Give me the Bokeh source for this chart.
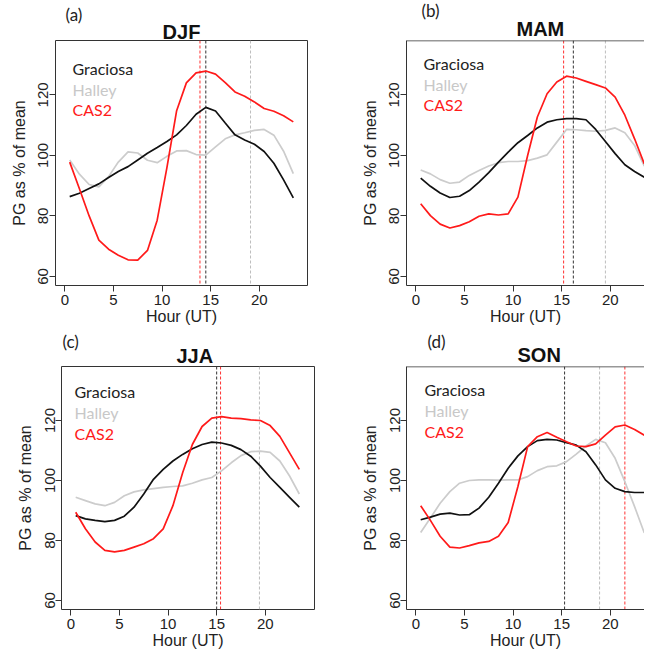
from bokeh.plotting import figure
from bokeh.models import Range1d, FixedTicker, Label, Span, Title
from bokeh.layouts import column, row
from bokeh.embed import file_html
from bokeh.resources import INLINE

# ---------------- data ----------------
hours = [0.5, 1.5, 2.5, 3.5, 4.5, 5.5, 6.5, 7.5, 8.5, 9.5, 10.5, 11.5,
         12.5, 13.5, 14.5, 15.5, 16.5, 17.5, 18.5, 19.5, 20.5, 21.5, 22.5, 23.5]

series_names = ["Graciosa", "Halley", "CAS2"]
seasons = ["DJF", "MAM", "JJA", "SON"]
panel_letters = ["(a)", "(b)", "(c)", "(d)"]

graciosa_djf = [86.4, 87.5, 89.1, 90.6, 92.7, 94.7, 96.3, 98.5, 100.7, 102.6, 104.6, 106.8,
                109.9, 113.6, 115.9, 114.7, 110.7, 106.8, 105.1, 103.7, 101.3, 97.4, 91.9, 86.0]
halley_djf = [98.5, 93.8, 90.4, 89.6, 93.0, 97.8, 101.2, 100.8, 98.4, 97.6, 99.7, 101.5,
              101.6, 100.3, 100.1, 102.8, 105.5, 106.8, 107.5, 108.3, 108.6, 106.7, 101.4, 94.0]
cas2_djf = [97.8, 89.0, 80.0, 72.0, 69.0, 67.0, 65.5, 65.4, 68.6, 78.6, 96.0, 114.8,
            124.0, 127.3, 127.9, 126.9, 124.1, 121.0, 119.6, 117.7, 115.5, 114.6, 113.1, 111.1]

graciosa_mam = [92.5, 89.8, 87.6, 86.1, 86.5, 88.4, 91.2, 94.3, 97.8, 101.1, 104.2, 106.6,
                109.1, 111.0, 111.8, 112.2, 112.2, 111.8, 108.6, 104.6, 100.6, 96.9, 94.7, 92.8]
halley_mam = [95.2, 93.9, 92.0, 90.8, 91.2, 93.4, 95.0, 96.5, 97.6, 98.0, 98.0, 98.3,
              99.1, 100.2, 104.4, 108.6, 108.5, 108.2, 108.0, 108.3, 109.1, 107.5, 103.3, 96.5]
cas2_mam = [84.0, 80.1, 77.3, 76.0, 76.8, 78.1, 79.9, 80.7, 80.3, 80.7, 86.2, 100.0,
            112.7, 120.4, 124.3, 126.2, 125.6, 124.5, 123.4, 122.3, 119.3, 113.3, 105.5, 97.2]

graciosa_jja = [88.3, 87.2, 86.7, 86.3, 86.7, 88.1, 91.1, 95.5, 100.4, 103.7, 106.5, 108.7,
                110.6, 112.0, 112.8, 112.5, 111.7, 110.3, 108.1, 104.8, 101.0, 97.7, 94.4, 91.1]
halley_jja = [94.4, 93.3, 92.2, 91.6, 92.7, 94.9, 96.2, 96.9, 97.3, 97.7, 98.0, 98.2,
              99.1, 100.2, 101.0, 103.2, 105.9, 108.3, 109.6, 109.8, 109.4, 106.5, 101.5, 95.5]
cas2_jja = [89.4, 83.9, 79.5, 76.7, 76.2, 76.7, 77.8, 78.9, 80.6, 83.9, 91.6, 102.6,
            112.0, 118.0, 120.8, 121.3, 120.8, 120.6, 120.2, 120.0, 118.3, 114.7, 109.2, 103.7]

graciosa_son = [86.9, 87.8, 88.8, 89.1, 88.5, 88.6, 90.8, 94.4, 99.1, 104.1, 108.2, 111.3,
                113.3, 113.7, 113.5, 112.6, 111.8, 109.6, 105.2, 100.2, 97.4, 96.3, 96.0, 96.0]
halley_son = [82.7, 87.5, 92.4, 96.3, 99.1, 100.0, 100.2, 100.2, 100.1, 100.2, 100.2, 101.3,
              103.3, 104.6, 104.9, 106.3, 108.8, 111.5, 113.7, 112.6, 107.4, 99.6, 91.3, 82.5]
cas2_son = [91.6, 86.7, 81.4, 77.8, 77.5, 78.3, 79.2, 79.7, 81.4, 86.0, 98.0, 111.3,
            114.6, 116.0, 114.4, 112.9, 111.5, 111.3, 112.2, 115.1, 117.9, 118.5, 117.0, 115.1]

# hour of maximum (dotted vertical lines): Graciosa, Halley, CAS2
peak_djf = [14.5, 19.1, 13.9]
peak_mam = [16.2, 19.5, 15.2]
peak_jja = [15.0, 19.4, 15.4]
peak_son = [15.3, 18.9, 21.5]

x_ticks = [0, 5, 10, 15, 20]
y_ticks = [60, 80, 100, 120]
x_label = "Hour (UT)"
y_label = "PG as % of mean"

# ---------------- styling ----------------
LINE_COLORS = ["#111111", "#cccccc", "#ff1a1a"]
TEXT_COLORS = ["#222222", "#c8c8c8", "#ff1a1a"]
SPAN_COLORS = ["#333333", "#bdbdbd", "#ff3030"]
AX = "#333333"
SANS = "Liberation Sans"
LEG = "Lato"

X_LO, X_HI = -0.96, 24.96
Y_LO, Y_HI = 57.0, 138.0
PX_PER_X = 252 / (X_HI - X_LO)


def make_panel(idx, gra, hal, cas, peaks, fw, fh, borders, open_right, lay):
    mb_left, mb_right, mb_top = borders
    letter_off, letter_so, title_align, title_off, title_so, leg_dx, leg_rows = lay
    x_hi = X_LO + fw / PX_PER_X
    p = figure(frame_width=fw, frame_height=fh,
               min_border_left=mb_left, min_border_right=mb_right,
               min_border_top=mb_top, min_border_bottom=45,
               x_range=Range1d(X_LO, x_hi), y_range=Range1d(Y_LO, Y_HI),
               output_backend="svg", toolbar_location=None,
               background_fill_color="white", border_fill_color="white")
    p.xgrid.visible = False
    p.ygrid.visible = False

    for ax in (p.xaxis[0], p.yaxis[0]):
        ax.minor_tick_line_color = None
        ax.minor_tick_out = 0
        ax.major_tick_in = 0
        ax.major_tick_out = 6
        ax.major_tick_line_color = AX
        ax.major_label_text_font = SANS
        ax.major_label_text_color = "#222222"
        ax.axis_label_text_font = SANS
        ax.axis_label_text_font_style = "normal"
        ax.axis_label_text_color = "#222222"
    p.xaxis.ticker = FixedTicker(ticks=x_ticks)
    p.yaxis.ticker = FixedTicker(ticks=y_ticks)
    p.xaxis.major_label_text_font_size = "15px"
    p.yaxis.major_label_text_font_size = "15px"
    p.xaxis.axis_label_text_font_size = "16px"
    p.yaxis.axis_label_text_font_size = "16px"
    p.xaxis.major_label_standoff = 3
    p.xaxis.axis_label_standoff = 0
    p.yaxis.major_label_standoff = 1
    p.yaxis.axis_label_standoff = 8
    p.yaxis.major_label_orientation = "vertical"
    p.xaxis.axis_label = x_label
    p.yaxis.axis_label = y_label

    if open_right:
        # the box continues past the page edge: left, bottom and top edges only
        p.outline_line_color = None
        p.xaxis[0].axis_line_color = AX
        p.yaxis[0].axis_line_color = AX
        p.add_layout(Span(location=Y_HI, dimension="width", line_color=AX, line_width=1.5))
    else:
        p.outline_line_color = AX
        p.outline_line_width = 1
        p.xaxis[0].axis_line_color = None
        p.yaxis[0].axis_line_color = None

    for k in range(3):
        p.add_layout(Span(location=peaks[k], dimension="height", line_color=SPAN_COLORS[k],
                          line_dash="3 2", line_width=1, level="underlay"))

    p.line(hours, hal, line_color=LINE_COLORS[1], line_width=1.7)
    p.line(hours, gra, line_color=LINE_COLORS[0], line_width=1.7)
    p.line(hours, cas, line_color=LINE_COLORS[2], line_width=1.7)

    # season name sits right above the box, panel letter above-left of it
    p.add_layout(Title(text=seasons[idx], align=title_align, offset=title_off,
                       text_font=SANS, text_font_size="20px", text_font_style="bold",
                       text_color="#111111", standoff=title_so), "above")
    p.add_layout(Title(text=panel_letters[idx], align="left", offset=letter_off,
                       vertical_align="bottom",
                       text_font=LEG, text_font_size="17px", text_font_style="normal",
                       text_color="#222222", standoff=letter_so), "above")

    def dx(px):
        return X_LO + px / PX_PER_X

    def dy(px_below_top):
        return Y_HI - px_below_top * (Y_HI - Y_LO) / fh

    for k in range(3):
        p.add_layout(Label(x=dx(leg_dx), y=dy(leg_rows[k]), text=series_names[k],
                           text_font=LEG, text_font_size="16px", text_color=TEXT_COLORS[k],
                           text_align="left", text_baseline="alphabetic"))
    return p


pa = make_panel(0, graciosa_djf, halley_djf, cas2_djf, peak_djf, 252, 245, (55, 15, 35), False,
                (10, -9, "center", 0, -4, 17, (28, 48.5, 69)))
pb = make_panel(1, graciosa_mam, halley_mam, cas2_mam, peak_mam, 238, 245, (84, 0, 40), True,
                (15, -12, "left", 110, 2, 17, (23, 44, 64)))
pc = make_panel(2, graciosa_jja, halley_jja, cas2_jja, peak_jja, 253, 243, (61, 8, 33), False,
                (1, -19, "left", 115, 0, 13, (25, 46, 66.5)))
pd = make_panel(3, graciosa_son, halley_son, cas2_son, peak_son, 238, 243, (84, 0, 36), True,
                (21, -20, "left", 111, 1, 18, (23, 44, 65)))

layout = column(row(pa, pb), row(pc, pd))

open("out.html", "w").write(file_html(layout, INLINE))
